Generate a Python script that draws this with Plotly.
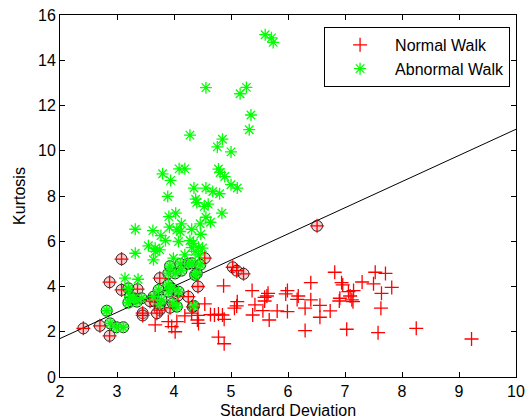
import plotly.graph_objects as go

# ---- data ----
normal_x = [4.87, 5.37, 4.54, 5.11, 5.10, 5.06, 5.42, 5.38, 4.19, 4.31, 4.42, 4.41, 4.43, 4.64, 4.71, 4.78,
            4.85, 4.88, 3.90, 4.05, 3.96, 4.02, 3.67, 4.78, 4.88,
            6.82, 6.40, 6.94, 6.96, 7.30, 5.99, 5.65, 5.63, 5.96, 6.18, 6.16, 6.40, 7.06, 7.15, 7.09,
            7.12, 7.14, 6.91, 6.90, 5.59, 5.59, 5.56, 5.81, 5.99, 6.30, 6.56, 6.74, 6.56, 5.67,
            6.30, 7.03, 7.53, 7.71, 7.50, 7.82, 7.64, 7.63, 7.58, 8.25, 9.22]
normal_y = [4.03, 3.82, 3.23, 3.33, 3.14, 3.04, 3.19, 2.74, 2.70, 2.82, 2.72, 2.52, 2.37, 2.76, 2.74, 2.78,
            2.74, 2.55, 2.45, 2.45, 2.23, 2.00, 2.30, 1.76, 1.47,
            4.63, 4.17, 4.17, 4.07, 4.20, 3.82, 3.70, 3.58, 3.67, 3.58, 3.43, 3.41, 3.77, 3.82, 3.58,
            3.41, 3.33, 3.48, 3.36, 3.52, 3.36, 2.93, 2.92, 2.89, 3.04, 3.17, 2.92, 2.64, 2.52,
            2.05, 2.11, 4.63, 4.58, 4.12, 3.96, 3.70, 3.04, 1.96, 2.15, 1.68]

# misclassified normal walk samples (circled)
normal_err_x = [3.08, 2.87, 3.08, 3.36, 3.75, 4.54, 4.42, 5.03, 5.10, 5.22, 2.41, 2.70, 2.87, 3.45, 3.45,
                3.58, 3.67, 3.75, 3.93, 4.07, 4.25, 4.33, 3.70, 6.51]
normal_err_y = [5.21, 4.19, 3.85, 3.88, 4.37, 5.25, 4.00, 4.85, 4.70, 4.56, 2.15, 2.26, 1.82, 2.82, 2.72,
                3.35, 3.33, 2.96, 3.06, 3.60, 3.55, 3.10, 2.82, 6.68]

abnormal_x = [5.60, 5.71, 5.74, 4.56, 5.27, 5.16, 5.35, 5.32, 4.28, 4.85, 4.76, 5.00,
              3.80, 4.09, 4.19, 3.94, 4.78, 4.81, 4.89, 5.00, 5.11, 4.35, 4.56, 4.68, 4.80,
              3.89, 4.38, 4.40, 4.53, 4.60, 4.84, 4.03, 3.91, 4.56, 4.64, 4.13, 4.46,
              3.32, 3.63, 3.92, 4.05, 4.11, 4.31, 3.77, 4.47, 3.85, 4.08, 4.28, 3.55, 3.67,
              4.31, 4.43, 4.50, 3.32, 3.67, 3.75, 3.64, 3.99, 4.19, 4.37, 4.43, 4.34, 3.14, 3.37]
abnormal_y = [15.13, 14.99, 14.79, 12.79, 12.80, 12.52, 11.58, 10.93, 10.69, 10.51, 10.17, 9.95,
              8.98, 9.20, 9.20, 8.69, 9.19, 9.04, 8.86, 8.50, 8.35, 8.35, 8.35, 8.20, 8.10,
              7.98, 7.86, 7.71, 7.54, 7.64, 7.24, 7.24, 7.09, 7.06, 6.84, 6.77, 6.77,
              6.53, 6.47, 6.62, 6.50, 6.43, 6.53, 6.25, 6.31, 6.03, 5.99, 6.03, 5.80, 5.69,
              5.72, 5.74, 5.70, 5.47, 5.55, 5.62, 5.18, 5.25, 5.40, 5.55, 5.40, 5.91, 4.37, 4.32]

# misclassified abnormal walk samples (circled)
abnormal_err_x = [2.82, 2.88, 2.99, 3.11, 3.20, 3.23, 3.20, 3.29, 3.43, 3.35, 3.64, 3.73, 3.90, 3.96,
                  3.90, 3.93, 4.02, 4.11, 4.13, 4.25, 4.31, 4.37, 4.40, 4.46, 3.75, 3.90, 3.98, 4.05,
                  4.35, 3.78, 4.08]
abnormal_err_y = [2.93, 2.37, 2.20, 2.20, 3.92, 3.55, 3.29, 3.48, 3.48, 3.33, 3.55, 3.85, 4.07, 3.92,
                  4.58, 4.90, 4.58, 5.00, 4.70, 5.00, 5.03, 4.51, 4.58, 4.96, 3.23, 3.77, 3.26, 3.11,
                  3.14, 3.41, 3.77]

boundary_x = [2.0, 10.0]
boundary_y = [1.70, 10.95]

x_ticks = [2, 3, 4, 5, 6, 7, 8, 9, 10]
y_ticks = [0, 2, 4, 6, 8, 10, 12, 14, 16]

RED = "#ff0000"
GREEN = "#00ff00"
FONT = "Liberation Sans, Arial, sans-serif"

fig = go.Figure()

# circles around misclassified samples
fig.add_trace(go.Scatter(
    x=normal_err_x, y=normal_err_y, mode="markers", showlegend=False, hoverinfo="skip",
    marker=dict(symbol="circle", size=11, color="rgba(240,150,150,0.45)",
                line=dict(color="rgba(0,0,0,0.85)", width=1))))
fig.add_trace(go.Scatter(
    x=abnormal_err_x, y=abnormal_err_y, mode="markers", showlegend=False, hoverinfo="skip",
    marker=dict(symbol="circle", size=11, color="rgba(80,220,80,0.55)",
                line=dict(color="rgba(0,0,0,0.85)", width=1))))

# decision boundary
fig.add_trace(go.Scatter(x=boundary_x, y=boundary_y, mode="lines", showlegend=False,
                         line=dict(color="black", width=1)))

fig.add_trace(go.Scatter(
    x=normal_x + normal_err_x, y=normal_y + normal_err_y, mode="markers", name="Normal Walk",
    marker=dict(symbol="cross-thin-open", size=10, color=RED, line=dict(color=RED, width=1.3))))
fig.add_trace(go.Scatter(
    x=abnormal_x + abnormal_err_x, y=abnormal_y + abnormal_err_y, mode="markers", name="Abnormal Walk",
    marker=dict(symbol="asterisk-open", size=10, color=GREEN, line=dict(color=GREEN, width=1.3))))

axis_common = dict(showline=True, linecolor="black", linewidth=1, mirror="ticks",
                   ticks="inside", ticklen=5, tickcolor="black", showgrid=False, zeroline=False,
                   automargin=False,
                   tickfont=dict(family=FONT, size=16, color="black"))

fig.update_layout(
    width=525, height=420,
    margin=dict(l=60, r=9, t=15, b=43),
    paper_bgcolor="white", plot_bgcolor="white",
    font=dict(family=FONT, size=16, color="black"),
    xaxis=dict(range=[2, 10], tickvals=x_ticks, ticktext=[str(v) for v in x_ticks],
               title=dict(text="Standard Deviation", font=dict(family=FONT, size=16), standoff=5),
               **axis_common),
    yaxis=dict(range=[0, 16], tickvals=y_ticks, ticktext=[str(v) for v in y_ticks],
               title=dict(text="Kurtosis", font=dict(family=FONT, size=16), standoff=8),
               **axis_common),
    legend=dict(x=0.987, y=0.967, xanchor="right", yanchor="top",
                bordercolor="black", borderwidth=1, bgcolor="white",
                font=dict(family=FONT, size=16), itemwidth=60, tracegroupgap=0),
)

fig.write_html("out.html")
